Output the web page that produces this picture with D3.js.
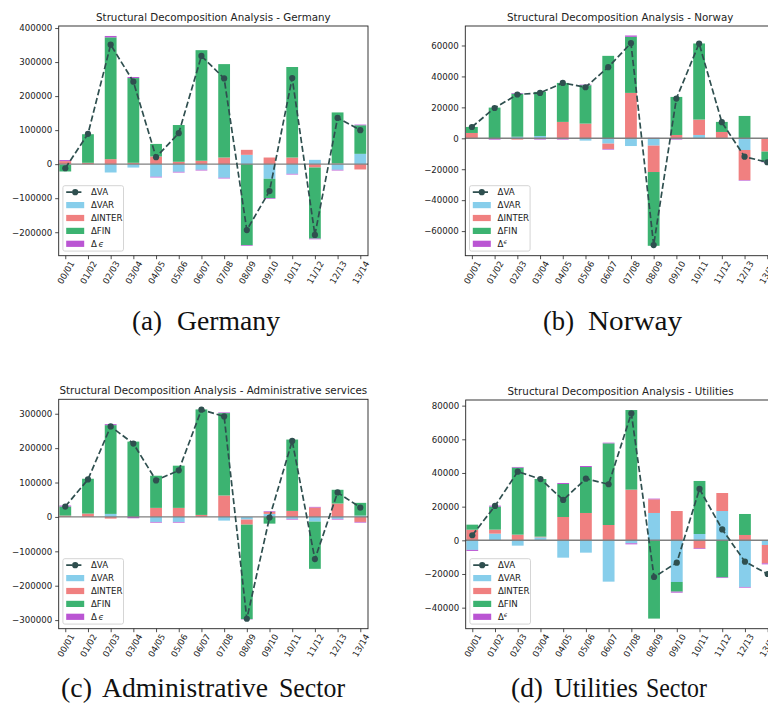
<!DOCTYPE html>
<html>
<head>
<meta charset="utf-8">
<script src="https://cdn.jsdelivr.net/npm/d3@7"></script>
<style>
  body { margin: 0; background: #fff; overflow: hidden; }
  svg { display: block; }
</style>
</head>
<body>
<svg id="fig" width="768" height="707"></svg>
<script>
// ---- Data -----------------------------------------------------------------
const periods = ["00/01","01/02","02/03","03/04","04/05","05/06","06/07",
                 "07/08","08/09","09/10","10/11","11/12","12/13","13/14"];

const componentNames = ["ΔVAR", "ΔINTER", "ΔFIN"];
const componentColors = ["#87CEEB", "#F08080", "#3CB371", "#BA55D3"];
const lineColor = "#2F4F4F";

// Germany
const germanyVA    = [-12000, 89000, 351000, 242500, 20500, 91000, 318000, 252000, -193600, -79000, 253000, -208000, 136000, 99800];
const germanyVAR   = [-2000, 0, -24500, -10000, -37000, -22500, -16600, -40000, 27400, -43000, -28400, 12700, -16600, 30300];
const germanyINTER = [9000, 4000, 14700, 4000, 22500, 7000, 10000, 19500, 14700, 19500, 19500, -9800, 2000, -15600];
const germanyFIN   = [-19500, 84000, 358000, 249000, 37000, 108000, 325000, 274500, -237700, -56700, 266000, -209000, 150000, 84000];
const germanyEPS   = [3000, 0, 4000, 3000, -2000, -2000, -2000, -2000, -2000, -2000, -2000, -2000, -2000, 2000];
const germanyTicks = [-200000, -100000, 0, 100000, 200000, 300000, 400000];

// Norway
const norwayVA    = [7300, 19600, 28300, 29350, 35800, 33000, 46000, 61500, -69000, 25700, 61300, 10400, -11900, -15500];
const norwayVAR   = [0, 0, 1000, 1500, 0, -1500, -3450, -5000, -4750, 0, 2150, 0, -7550, 0];
const norwayINTER = [3450, 0, -860, 0, 10600, 9500, -3450, 29350, -17050, 2150, 9950, 4100, -19400, -8600];
const norwayFIN   = [3900, 19850, 27900, 28500, 25200, 24800, 53300, 36250, -47700, 24600, 49200, 6500, 14450, -6500];
const norwayEPS   = [0, -860, 400, -800, -800, 400, -400, 860, 300, -800, 0, 0, -400, -400];
const norwayTicks = [-60000, -40000, -20000, 0, 20000, 40000, 60000];

// Administrative services
const adminVA    = [30200, 109000, 263000, 213300, 106200, 135400, 311700, 292200, -296100, -1950, 221100, -122700, 71100, 27300];
const adminVAR   = [0, 0, 8800, 0, -14600, -14600, 0, -10700, -7800, 8800, -5800, -13600, -5800, 3900];
const adminINTER = [3900, 9700, -4900, 0, 26300, 26300, 5800, 62300, -14600, 5800, 17500, 27300, 39000, -14600];
const adminFIN   = [26300, 101300, 258100, 219000, 93500, 122700, 306800, 239600, -274700, -19500, 207500, -137300, 39900, 37000];
const adminEPS   = [2900, 0, 2900, -3900, -2000, -2000, 0, 1900, -1000, 1900, -1900, 1900, -1900, -1900];
const adminTicks = [-300000, -200000, -100000, 0, 100000, 200000, 300000];

// Utilities
const utilVA    = [3000, 20400, 40800, 36400, 24000, 36600, 33300, 75400, -21800, -13300, 30500, 6500, -12700, -20000];
const utilVAR   = [-5700, 3960, -3170, 1780, -10300, -7330, -24550, -1780, 16240, -24750, 3760, 17400, -27700, -2770];
const utilINTER = [6300, 2380, 3370, 400, 13860, 16240, 9100, 30100, 8120, 17400, -4750, 10700, 3170, -10900];
const utilFIN   = [3000, 13660, 39800, 34250, 19600, 27300, 48500, 47300, -46500, -5740, 31500, -22000, 12470, 0];
const utilEPS   = [-600, 600, 400, 0, 600, 600, 400, -600, 400, -600, -400, -400, -400, -600];
const utilTicks = [-40000, -20000, 0, 20000, 40000, 60000, 80000];

// ---- Drawing ---------------------------------------------------------------
const svg = d3.select("#fig");
const sans = "'DejaVu Sans', sans-serif";
const tickFont = 8.65;
const minus = v => v < 0 ? "\u2212" + Math.abs(v) : String(v);

function drawPanel(p, idx) {
  const { left, top, width, height } = p;
  const bottom = top + height;
  const g = svg.append("g");

  const x = d3.scaleLinear().domain([-0.29, 13.34]).range([left, left + width]);
  const y = d3.scaleLinear().domain(p.yDomain).range([bottom, top]);
  const barW = x(0.52) - x(0);

  const clipId = "clip" + idx;
  g.append("clipPath").attr("id", clipId)
    .append("rect").attr("x", left).attr("y", top).attr("width", width).attr("height", height);
  const plot = g.append("g").attr("clip-path", `url(#${clipId})`);

  // stacked bars: positives stack upward, negatives downward, in series order
  const series = [p.VAR, p.INTER, p.FIN, p.EPS];
  const rects = [];
  periods.forEach((_, i) => {
    let pos = 0, neg = 0;
    series.forEach((s, k) => {
      const v = s[i];
      if (v === 0) return;
      let y0, y1;
      if (v > 0) { y0 = pos; y1 = pos + v; pos = y1; }
      else { y0 = neg; y1 = neg + v; neg = y1; }
      rects.push({ i, k, y0, y1 });
    });
  });
  plot.selectAll("rect.bar").data(rects).join("rect")
    .attr("class", "bar")
    .attr("x", d => x(d.i) - barW / 2)
    .attr("width", barW)
    .attr("y", d => y(Math.max(d.y0, d.y1)))
    .attr("height", d => Math.abs(y(d.y0) - y(d.y1)))
    .attr("fill", d => componentColors[d.k]);

  // zero reference line
  plot.append("line")
    .attr("x1", left).attr("x2", left + width)
    .attr("y1", y(0)).attr("y2", y(0))
    .attr("stroke", "#808080").attr("stroke-width", 1.4);

  // ΔVA dashed line with markers
  const line = d3.line().x((d, i) => x(i)).y(d => y(d));
  plot.append("path").datum(p.VA)
    .attr("d", line)
    .attr("fill", "none")
    .attr("stroke", lineColor)
    .attr("stroke-width", 1.7)
    .attr("stroke-dasharray", "6.2,2.8");
  plot.selectAll("circle.va").data(p.VA).join("circle")
    .attr("class", "va")
    .attr("cx", (d, i) => x(i)).attr("cy", d => y(d))
    .attr("r", 3.1).attr("fill", lineColor);

  // axes
  const yAxis = d3.axisLeft(y).tickValues(p.yTicks).tickFormat(minus)
    .tickSize(3.5).tickSizeOuter(0).tickPadding(3);
  const ya = g.append("g").attr("transform", `translate(${left},0)`).call(yAxis);
  ya.select(".domain").remove();
  ya.selectAll("text").attr("font-family", sans).attr("font-size", tickFont).attr("fill", "#222");
  ya.selectAll("line").attr("stroke", "#222").attr("stroke-width", 0.8);

  const xAxis = d3.axisBottom(x).tickValues(d3.range(periods.length))
    .tickFormat(i => periods[i]).tickSize(3.5).tickSizeOuter(0);
  const xa = g.append("g").attr("transform", `translate(0,${bottom})`).call(xAxis);
  xa.select(".domain").remove();
  xa.selectAll("line").attr("stroke", "#222").attr("stroke-width", 0.8);
  xa.selectAll("text")
    .attr("y", null).attr("dy", "0.35em")
    .attr("transform", "translate(0,16.8) rotate(-60)")
    .style("text-anchor", "middle")
    .attr("font-family", sans).attr("font-size", tickFont).attr("fill", "#222");

  // frame
  g.append("rect").attr("x", left).attr("y", top).attr("width", width).attr("height", height)
    .attr("fill", "none").attr("stroke", "#222").attr("stroke-width", 0.9);

  // title
  g.append("text").attr("x", left + width / 2).attr("y", top - 5.5)
    .attr("text-anchor", "middle").attr("font-family", sans).attr("font-size", 10.3)
    .attr("fill", "#222").text(p.title);

  // legend
  const lx = left + 4.2, lh = 65.4, ly = bottom - 4.6 - lh;
  const lg = g.append("g");
  lg.append("rect").attr("x", lx).attr("y", ly).attr("width", 60.6).attr("height", lh)
    .attr("rx", 2).attr("fill", "#fff").attr("fill-opacity", 0.85)
    .attr("stroke", "#d0d0d0").attr("stroke-width", 0.9);
  const rowY = k => ly + 6.5 + k * 12.9;
  const px0 = lx + 3.3, pw = 18, tx = lx + 28;
  lg.append("line").attr("x1", px0).attr("x2", px0 + pw)
    .attr("y1", rowY(0)).attr("y2", rowY(0))
    .attr("stroke", lineColor).attr("stroke-width", 1.7).attr("stroke-dasharray", "6.2,2.8");
  lg.append("circle").attr("cx", px0 + pw / 2).attr("cy", rowY(0)).attr("r", 3.1).attr("fill", lineColor);
  componentColors.forEach((c, k) => {
    lg.append("rect").attr("x", px0).attr("y", rowY(k + 1) - 3.1)
      .attr("width", pw).attr("height", 6.2).attr("fill", c);
  });
  const labelText = (k) => lg.append("text").attr("x", tx).attr("y", rowY(k))
    .attr("dy", "0.35em").attr("font-family", sans).attr("font-size", tickFont).attr("fill", "#222");
  labelText(0).text("ΔVA");
  componentNames.forEach((n, k) => labelText(k + 1).text(n));
  const eps = labelText(4);
  if (p.epsSuper) {
    eps.append("tspan").text("Δ");
    eps.append("tspan").attr("font-size", tickFont * 0.72).attr("dy", "-0.45em")
      .attr("font-style", "italic").text("ϵ");
  } else {
    eps.append("tspan").text("Δ\u2009");
    eps.append("tspan").attr("font-style", "italic").text("ϵ");
  }
}

const panels = [
  { left: 58.7, top: 26, width: 309.3, height: 229.7, yDomain: [-269000, 406000],
    yTicks: germanyTicks, title: "Structural Decomposition Analysis - Germany",
    VA: germanyVA, VAR: germanyVAR, INTER: germanyINTER, FIN: germanyFIN, EPS: germanyEPS, epsSuper: false },
  { left: 465.3, top: 26, width: 309.7, height: 229.7, yDomain: [-75900, 72600],
    yTicks: norwayTicks, title: "Structural Decomposition Analysis - Norway",
    VA: norwayVA, VAR: norwayVAR, INTER: norwayINTER, FIN: norwayFIN, EPS: norwayEPS, epsSuper: true },
  { left: 58.7, top: 399.3, width: 309.3, height: 229.4, yDomain: [-325000, 342000],
    yTicks: adminTicks, title: "Structural Decomposition Analysis - Administrative services",
    VA: adminVA, VAR: adminVAR, INTER: adminINTER, FIN: adminFIN, EPS: adminEPS, epsSuper: false },
  { left: 465.7, top: 400, width: 309.7, height: 228.7, yDomain: [-52500, 83350],
    yTicks: utilTicks, title: "Structural Decomposition Analysis - Utilities",
    VA: utilVA, VAR: utilVAR, INTER: utilINTER, FIN: utilFIN, EPS: utilEPS, epsSuper: true }
];
panels.forEach(drawPanel);

// sub-figure captions: [word, x, width]
const serif = "'Liberation Serif', 'Times New Roman', serif";
const captions = [
  { y: 330, words: [["(a)", 132, 30], ["Germany", 177, 103]] },
  { y: 330, words: [["(b)", 543, 31], ["Norway", 588, 94]] },
  { y: 697, words: [["(c)", 61, 31], ["Administrative", 102, 166], ["Sector", 279, 66]] },
  { y: 697, words: [["(d)", 511, 32], ["Utilities", 554, 84], ["Sector", 646, 61]] }
];
captions.forEach(c => {
  c.words.forEach(([w, wx, ww]) => {
    svg.append("text").attr("x", wx).attr("y", c.y)
      .attr("font-family", serif).attr("font-size", 27).attr("fill", "#111")
      .attr("textLength", ww).attr("lengthAdjust", "spacingAndGlyphs").text(w);
  });
});
</script>
</body>
</html>
